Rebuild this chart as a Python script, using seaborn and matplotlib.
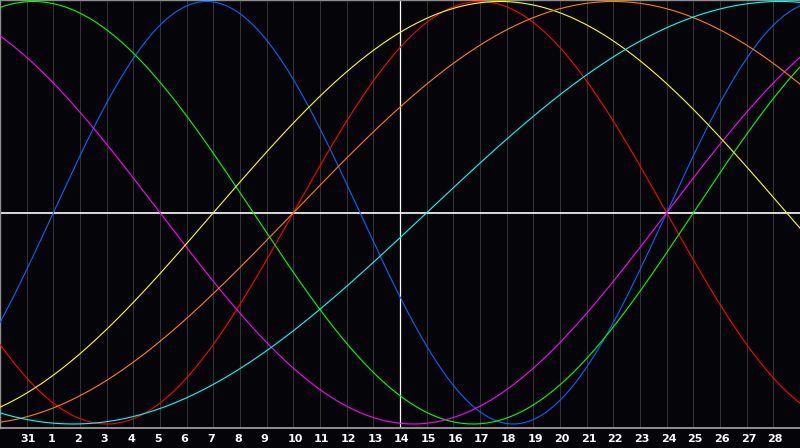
import numpy as np
import pandas as pd
import matplotlib
matplotlib.use("Agg")
import matplotlib.pyplot as plt
import seaborn as sns
from matplotlib.transforms import offset_copy

# ---- data -------------------------------------------------------------
# day-of-month labels shown under grid lines 1..29 (index 0 = the 30th of previous month)
day_labels = [31, 1, 2, 3, 4, 5, 6, 7, 8, 9, 10, 11, 12, 13, 14, 15, 16, 17,
              18, 19, 20, 21, 22, 23, 24, 25, 26, 27, 28]
cycle_names = ["Physical", "Emotional", "Intellectual", "Intuitive",
               "Aesthetic", "Awareness", "Spiritual"]
cycle_periods = [23, 28, 33, 38, 43, 48, 53]          # days
cycle_colors = ["#0066ff", "#ff0000", "#00ff00", "#ff00ff",
                "#ffff00", "#ff8000", "#00ffff"]
days_alive_at_start = 30565        # days since birth at the left edge
today_index = 15                   # the 14th (white vertical line)
n_days = 30

# ---- build long table ---------------------------------------------------
x = np.linspace(0, n_days, 1201)
rows = []
for name, per in zip(cycle_names, cycle_periods):
    v = np.sin(2 * np.pi * (days_alive_at_start + x) / per)
    rows.append(pd.DataFrame({"day": x, "value": v, "cycle": name}))
df = pd.concat(rows, ignore_index=True)

# ---- figure -------------------------------------------------------------
sns.set_style("dark")
bg = "#050408"
fig = plt.figure(figsize=(8, 4.48), dpi=100, facecolor=bg)
ax = fig.add_axes([0, 20 / 448, 1, 428 / 448])
ax.set_facecolor(bg)

# grid lines
for i in range(1, n_days):
    if i == today_index:
        continue
    ax.axvline(i, color="#333333", lw=0.75, zorder=1)
ax.axvline(today_index, color="white", lw=0.9, zorder=2)
ax.axhline(0, color="white", lw=1.2, zorder=2)

sns.lineplot(data=df, x="day", y="value", hue="cycle",
             palette=dict(zip(cycle_names, cycle_colors)),
             hue_order=cycle_names, estimator=None, sort=False,
             lw=0.8, legend=False, ax=ax, zorder=3)

a = 211.25
ax.set_xlim(0, n_days)
ax.set_ylim(-1 - 4 / a, 1 + 1.5 / a)
ax.set_xticks([])
ax.set_yticks([])
ax.set_xlabel("")
ax.set_ylabel("")
ax.grid(False)
for s in ["top", "left"]:
    ax.spines[s].set_visible(True)
    ax.spines[s].set_color("#8c8c8c")
    ax.spines[s].set_linewidth(1.0)
ax.spines["bottom"].set_visible(True)
ax.spines["bottom"].set_color("#a8a8a8")
ax.spines["bottom"].set_linewidth(1.2)
ax.spines["right"].set_visible(False)

# day labels
trans = offset_copy(ax.get_xaxis_transform(), fig=fig, x=-6, y=0, units="dots")
for i, lab in enumerate(day_labels, start=1):
    ax.text(i, -10.5 / 428, str(lab), transform=trans, ha="left", va="center",
            color="white", fontsize=8, fontweight="bold",
            family="DejaVu Sans", clip_on=False)

fig.savefig("out.png", dpi=100, facecolor=bg)
